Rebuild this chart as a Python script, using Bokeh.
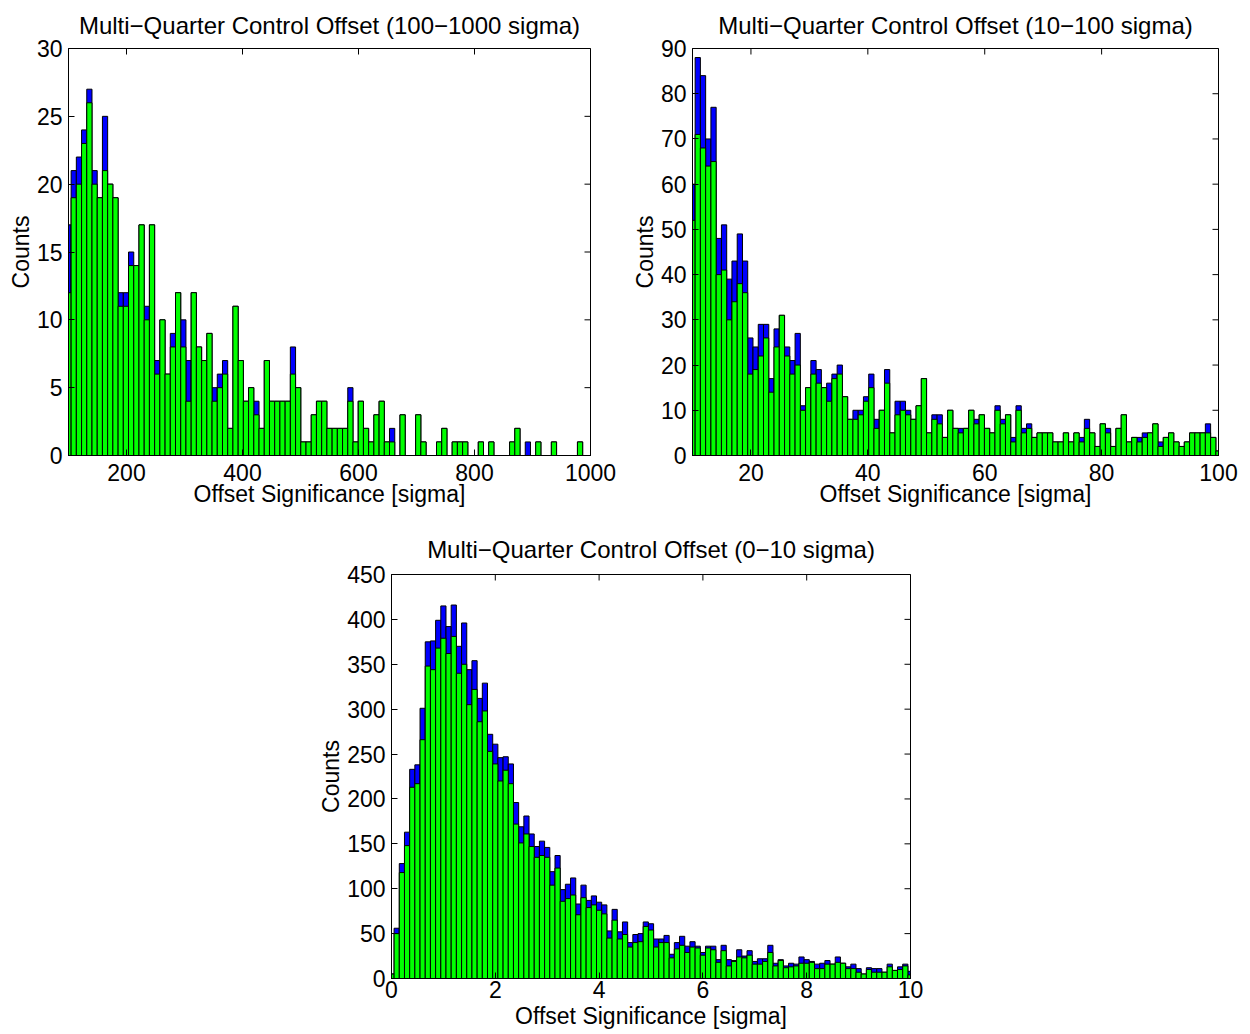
from bokeh.plotting import figure
from bokeh.layouts import column, row
from bokeh.models import Spacer, FixedTicker
from bokeh.embed import file_html
from bokeh.resources import INLINE

FONT = "Liberation Sans"
FONT_SIZE = "23px"
TITLE_SIZE = "24px"
BLUE = "#0000ff"
GREEN = "#00ff00"

# ---- 100-1000 sigma: 101 bins of width 9 starting at 100 ----
hi_start, hi_step = 100, 9
hi_all = [17, 21, 22, 24, 27, 21, 19, 25, 20, 19,
          12, 12, 15, 14, 17, 11, 17, 7, 10, 6,
          9, 12, 10, 7, 12, 8, 7, 9, 5, 6,
          7, 2, 11, 7, 4, 5, 4, 2, 7, 4,
          4, 4, 4, 8, 5, 1, 1, 3, 4, 4,
          2, 2, 2, 2, 5, 1, 4, 2, 1, 3,
          4, 1, 2, 0, 3, 0, 0, 3, 1, 0,
          0, 1, 2, 0, 1, 1, 1, 0, 0, 1,
          0, 1, 0, 0, 0, 1, 2, 0, 1, 0,
          1, 0, 0, 1, 0, 0, 0, 0, 1, 0, 0]
hi_sub = [12, 19, 20, 23, 26, 20, 19, 21, 20, 19,
          11, 11, 14, 14, 17, 10, 17, 6, 10, 6,
          8, 12, 8, 4, 12, 8, 7, 9, 4, 5,
          6, 2, 11, 7, 4, 5, 3, 2, 7, 4,
          4, 4, 4, 6, 5, 1, 1, 3, 4, 4,
          2, 2, 2, 2, 4, 1, 4, 2, 1, 3,
          4, 1, 1, 0, 3, 0, 0, 3, 1, 0,
          0, 1, 2, 0, 1, 1, 1, 0, 0, 1,
          0, 1, 0, 0, 0, 1, 2, 0, 0, 0,
          1, 0, 0, 1, 0, 0, 0, 0, 1, 0, 0]

# ---- 10-100 sigma: 101 bins of width 0.9 starting at 10 ----
mid_start, mid_step = 10, 0.9
mid_all = [60, 88, 84, 70, 77, 48, 51, 39, 43, 49,
           43, 26, 24, 29, 29, 17, 28, 31, 24, 21,
           27, 11, 15, 21, 19, 15, 16, 18, 20, 13,
           8, 10, 10, 13, 18, 8, 10, 19, 5, 12,
           12, 10, 8, 11, 17, 5, 9, 9, 4, 10,
           6, 6, 6, 10, 8, 9, 6, 5, 11, 8,
           9, 4, 11, 6, 7, 4, 5, 5, 5, 3,
           3, 5, 3, 5, 4, 8, 5, 2, 7, 6,
           2, 6, 9, 3, 4, 4, 5, 5, 7, 3,
           4, 5, 3, 2, 3, 5, 5, 5, 7, 4, 1]
mid_sub = [52, 71, 68, 64, 65, 40, 41, 30, 34, 38,
           36, 18, 19, 22, 26, 14, 24, 31, 22, 18,
           20, 10, 15, 18, 16, 15, 12, 17, 18, 13,
           8, 8, 9, 12, 15, 6, 10, 16, 5, 9,
           10, 9, 8, 11, 17, 5, 8, 7, 4, 10,
           6, 5, 6, 10, 7, 9, 6, 5, 10, 7,
           9, 3, 10, 5, 6, 4, 5, 5, 5, 3,
           3, 5, 3, 5, 3, 6, 5, 2, 7, 5,
           2, 6, 9, 3, 4, 3, 4, 5, 7, 2,
           4, 5, 3, 2, 3, 5, 5, 5, 5, 4, 1]

# ---- 0-10 sigma: 101 bins of width 0.1 starting at 0 ----
lo_start, lo_step = 0, 0.1
lo_all = [5,
          56, 128, 163, 233, 238, 301, 375, 376, 399, 415,
          392, 416, 370, 396, 344, 354, 312, 329, 272, 261,
          246, 247, 239, 196, 169, 181, 161, 147, 153, 146,
          119, 137, 99, 105, 112, 83, 104, 87, 92, 85,
          82, 53, 77, 52, 63, 40, 49, 50, 63, 61,
          44, 44, 48, 27, 40, 47, 36, 41, 36, 29,
          36, 36, 21, 37, 21, 20, 32, 25, 31, 19,
          22, 22, 37, 17, 21, 14, 17, 16, 24, 21,
          19, 16, 17, 20, 16, 24, 17, 13, 16, 11,
          5, 12, 11, 11, 7, 16, 9, 13, 16, 8]
lo_sub = [5,
          50, 118, 148, 213, 217, 266, 348, 344, 368, 379,
          362, 381, 340, 350, 305, 322, 286, 298, 253, 239,
          220, 232, 217, 172, 151, 161, 147, 135, 137, 135,
          104, 123, 86, 89, 93, 71, 90, 79, 82, 76,
          72, 45, 65, 44, 49, 35, 40, 41, 58, 54,
          35, 40, 40, 23, 33, 37, 29, 35, 34, 26,
          34, 32, 18, 31, 14, 19, 24, 23, 26, 16,
          16, 19, 29, 14, 20, 12, 13, 14, 17, 17,
          18, 11, 11, 16, 16, 18, 17, 11, 11, 7,
          5, 10, 7, 7, 7, 13, 9, 10, 14, 4]


def style_axis(ax):
    ax.axis_line_color = "black"
    ax.major_tick_line_color = "black"
    ax.major_tick_in = 6
    ax.major_tick_out = 0
    ax.minor_tick_line_color = None
    ax.major_label_text_font = FONT
    ax.major_label_text_font_size = FONT_SIZE
    ax.major_label_text_color = "black"
    ax.axis_label_text_font = FONT
    ax.axis_label_text_font_size = FONT_SIZE
    ax.axis_label_text_font_style = "normal"
    ax.axis_label_text_color = "black"


def histogram_panel(title, start, step, totals, subset, xr, yr, xticks, yticks,
                    width, height, border, gaps):
    left, right, top, bottom = border
    xtick_gap, xlab_gap, ylab_gap, title_gap, title_shift = gaps
    centers = [start + step * i for i in range(len(totals))]
    p = figure(width=width, height=height, x_range=xr, y_range=yr,
               output_backend="svg", toolbar_location=None, title=title,
               min_border_left=left, min_border_right=right,
               min_border_top=top, min_border_bottom=bottom)
    p.vbar(x=centers, width=step, top=totals, bottom=0,
           fill_color=BLUE, line_color="black", line_width=1)
    p.vbar(x=centers, width=step, top=subset, bottom=0,
           fill_color=GREEN, line_color="black", line_width=1)

    # inward tick marks mirrored on the top and right edges of the box
    # (dashes centred on the edge; the outer half is clipped by the frame)
    p.scatter(x=xticks, y=[yr[1]] * len(xticks), marker="dash", size=12,
              angle=1.5708, line_color="black", line_width=1)
    p.scatter(x=[xr[1]] * len(yticks), y=yticks, marker="dash", size=12,
              line_color="black", line_width=1)

    p.grid.visible = False
    p.outline_line_color = "black"
    p.outline_line_alpha = 1
    p.background_fill_color = "white"
    p.border_fill_color = "white"

    p.xaxis.ticker = FixedTicker(ticks=xticks)
    p.yaxis.ticker = FixedTicker(ticks=yticks)
    p.xaxis.axis_label = "Offset Significance [sigma]"
    p.yaxis.axis_label = "Counts"
    for ax in p.xaxis + p.yaxis:
        style_axis(ax)
    p.xaxis.major_label_standoff = xtick_gap
    p.xaxis.axis_label_standoff = xlab_gap
    p.yaxis.major_label_standoff = 6
    p.yaxis.axis_label_standoff = ylab_gap

    p.title.text_font = FONT
    p.title.text_font_size = TITLE_SIZE
    p.title.text_font_style = "normal"
    p.title.align = "center"
    p.title.vertical_align = "top"
    p.title.text_color = "black"
    p.title.standoff = title_gap
    p.title.offset = title_shift
    return p


p1 = histogram_panel("Multi\u2212Quarter Control Offset (100\u22121000 sigma)",
                     hi_start, hi_step, hi_all, hi_sub,
                     (100, 1000), (0, 30),
                     [200, 400, 600, 800, 1000], list(range(0, 31, 5)),
                     620, 510, (68, 30, 48, 55), (8, -3, 0, 15, -6))
p2 = histogram_panel("Multi\u2212Quarter Control Offset (10\u2212100 sigma)",
                     mid_start, mid_step, mid_all, mid_sub,
                     (10, 100), (0, 90),
                     [20, 40, 60, 80, 100], list(range(0, 91, 10)),
                     630, 510, (72, 32, 48, 55), (8, -3, 0, 15, 0))
p3 = histogram_panel("Multi\u2212Quarter Control Offset (0\u221210 sigma)",
                     lo_start, lo_step, lo_all, lo_sub,
                     (0, 10), (0, 450),
                     [0, 2, 4, 6, 8, 10], list(range(0, 451, 50)),
                     650, 524, (91, 40, 64, 56), (2, 2, 0, 19, 0))

layout = column(row(p1, p2), row(Spacer(width=300, height=524), p3))

with open("out.html", "w") as f:
    f.write(file_html(layout, INLINE))
